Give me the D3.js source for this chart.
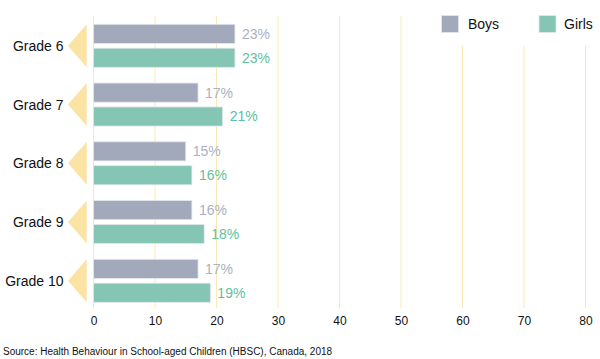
<!DOCTYPE html>
<html><head><meta charset="utf-8">
<script src="https://cdn.jsdelivr.net/npm/d3@7"></script>
<style>body{margin:0;background:#fff;}svg{display:block;font-family:"Liberation Sans",Arial,sans-serif;}</style>
</head><body><svg id="c" width="600" height="359"></svg>
<script>
const grades = ["Grade 6","Grade 7","Grade 8","Grade 9","Grade 10"];
const series = ["Boys","Girls"];
const boys = [23,17,15,16,17];
const girls = [23,21,16,18,19];
const xTicks = [0,10,20,30,40,50,60,70,80];
const source = "Source: Health Behaviour in School-aged Children (HBSC), Canada, 2018";

const colors = {Boys:"#a2a9bb", Girls:"#84c5b3"};
const labelColors = {Boys:"#abb1c2", Girls:"#5fc0a1"};
const svg = d3.select("#c");
const x = d3.scaleLinear().domain([0,80]).range([93.5,585.5]);
const y = d3.scaleBand().domain(grades).range([24.3,302.3]).paddingInner(0.268).paddingOuter(0);
const ys = d3.scaleBand().domain(series).range([0,y.bandwidth()]).paddingInner(0.2);
const data = grades.map((g,i)=>({grade:g, Boys:boys[i], Girls:girls[i]}));

// gridlines
const grid = svg.append("g");
xTicks.forEach(t=>{
  const top = t>=60 ? 45.5 : 16;
  grid.append("line").attr("x1",x(t)).attr("x2",x(t)).attr("y1",top).attr("y2",308)
    .attr("stroke","#fbe9b5").attr("stroke-width",1);
});

// axis
const axis = svg.append("g").attr("transform","translate(0,308)")
  .call(d3.axisBottom(x).tickValues(xTicks).tickSize(0).tickPadding(8));
axis.select(".domain").remove();
axis.selectAll("text").attr("font-size",12).attr("fill","#111").attr("font-family","Liberation Sans, Arial, sans-serif");

// triangles
svg.append("g").selectAll("path").data(data).join("path")
  .attr("d",d=>{const y0=y(d.grade), y1=y0+y.bandwidth(); const xr=86.7, xl=68;
    return `M${xr},${y0}L${xl},${(y0+y1)/2}L${xr},${y1}Z`;})
  .attr("fill","#fbe3a4");

// grade labels
svg.append("g").selectAll("text").data(data).join("text")
  .attr("x",63.5).attr("y",d=>y(d.grade)+y.bandwidth()/2+5)
  .attr("text-anchor","end").attr("font-size",14).attr("fill","#111").text(d=>d.grade);

// bars
const g = svg.append("g").selectAll("g").data(data).join("g")
  .attr("transform",d=>`translate(0,${y(d.grade)})`);
series.forEach(s=>{
  g.append("rect").attr("x",x(0)).attr("y",ys(s)).attr("width",d=>x(d[s])-x(0))
    .attr("height",ys.bandwidth()).attr("fill",colors[s])
    .attr("stroke","#e4e6ec").attr("stroke-width",0.8);
  g.append("text").attr("x",d=>x(d[s])+7).attr("y",ys(s)+ys.bandwidth()/2+5)
    .attr("font-size",14).attr("fill",labelColors[s]).text(d=>d[s]+"%");
});

// legend
const leg = [{s:"Boys",x:441.5,tx:468},{s:"Girls",x:539,tx:564}];
leg.forEach(l=>{
  svg.append("rect").attr("x",l.x).attr("y",15.5).attr("width",17).attr("height",17)
    .attr("fill",colors[l.s]).attr("stroke","#e4e6ec").attr("stroke-width",0.8);
  svg.append("text").attr("x",l.tx).attr("y",29).attr("font-size",14).attr("fill","#111").text(l.s);
});

svg.append("text").attr("x",3).attr("y",355).attr("font-size",10).attr("fill","#111").text(source);
</script></body></html>
